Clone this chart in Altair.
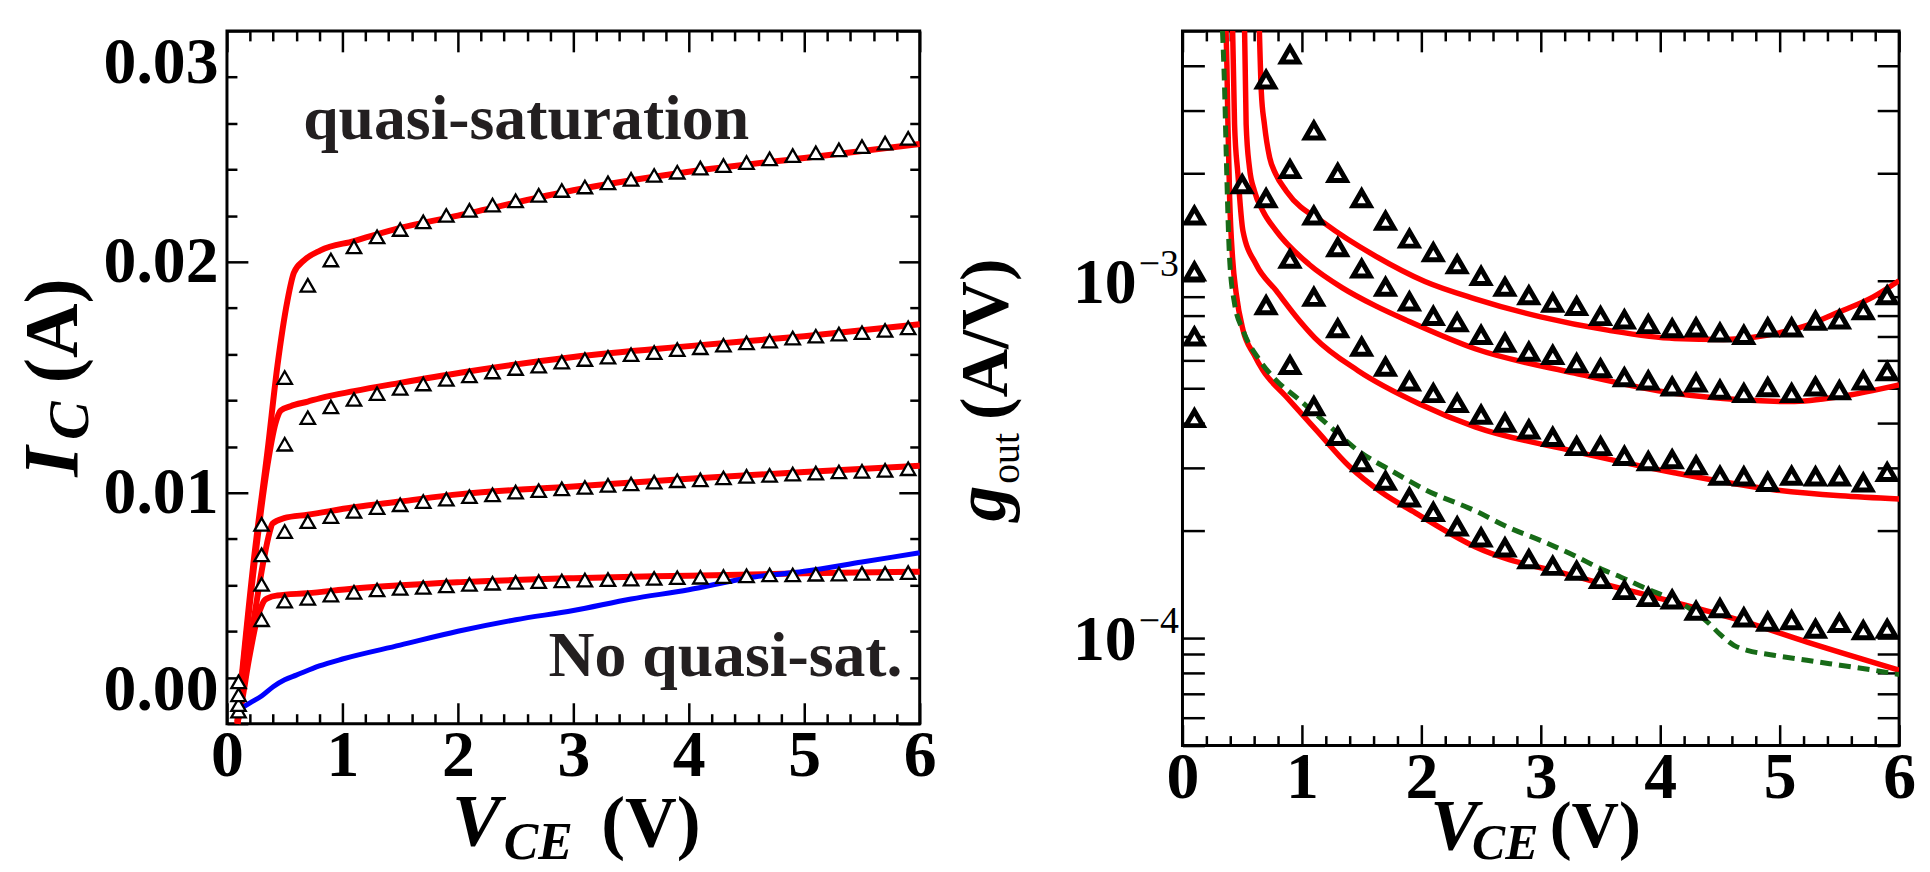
import altair as alt
import pandas as pd

# ---------------- data: left panel (I_C vs V_CE) ----------------
V_MEAS = [0.1, 0.3, 0.5, 0.7, 0.9, 1.1, 1.3, 1.5, 1.7, 1.9, 2.1, 2.3, 2.5, 2.7, 2.9,
          3.1, 3.3, 3.5, 3.7, 3.9, 4.1, 4.3, 4.5, 4.7, 4.9, 5.1, 5.3, 5.5, 5.7, 5.9]
IC_MEAS_4 = [0.00181, 0.00863, 0.01499, 0.01898, 0.02008, 0.02065, 0.02108, 0.02140, 0.02173, 0.02201,
             0.02223, 0.02246, 0.02264, 0.02288, 0.02309, 0.02324, 0.02342, 0.02357, 0.02374, 0.02388,
             0.02406, 0.02417, 0.02430, 0.02446, 0.02460, 0.02472, 0.02485, 0.02499, 0.02514, 0.02535]
IC_MEAS_3 = [0.00125, 0.00731, 0.0121, 0.01325, 0.01372, 0.01404, 0.01429, 0.01452, 0.01471, 0.01491,
             0.01506, 0.01523, 0.01538, 0.01548, 0.01566, 0.01577, 0.01587, 0.01598, 0.01607, 0.01620,
             0.01628, 0.01639, 0.01649, 0.01657, 0.01670, 0.01678, 0.01687, 0.01693, 0.01703, 0.01714]
IC_MEAS_2 = [0.00082, 0.00603, 0.00832, 0.00875, 0.00897, 0.00919, 0.00936, 0.00948, 0.00962, 0.00972,
             0.00983, 0.00991, 0.01003, 0.01009, 0.01017, 0.01023, 0.01032, 0.01038, 0.01046, 0.01052,
             0.01056, 0.01064, 0.01071, 0.01075, 0.01081, 0.01085, 0.01090, 0.01093, 0.01097, 0.01104]
IC_MEAS_1 = [0.00054, 0.00450, 0.00531, 0.00543, 0.00557, 0.00569, 0.00579, 0.00586, 0.00590, 0.00597,
             0.00603, 0.00608, 0.00612, 0.00615, 0.00618, 0.00622, 0.00624, 0.00626, 0.00629, 0.00632,
             0.00634, 0.00637, 0.00640, 0.00644, 0.00644, 0.00647, 0.00648, 0.00651, 0.00651, 0.00654]

V_FIT_1 = [0.09, 0.12, 0.192, 0.264, 0.3, 0.322, 0.36, 0.437, 0.696, 1.1, 2.02, 3.0, 4.0, 5.0, 6.0]
IC_FIT_1 = [0.0, 0.0007, 0.00283, 0.00459, 0.0051, 0.00532, 0.00545, 0.00555, 0.00565, 0.00585,
            0.00613, 0.0063, 0.00641, 0.00651, 0.00658]
V_FIT_2 = [0.09, 0.164, 0.235, 0.322, 0.37, 0.394, 0.494, 0.7, 1.1, 1.5, 2.02, 3.0, 4.0, 5.0, 6.0]
IC_FIT_2 = [0.0, 0.0023, 0.0046, 0.0072, 0.0083, 0.00866, 0.0089, 0.00905, 0.00937, 0.00962,
            0.00994, 0.01027, 0.01061, 0.0109, 0.01117]
V_FIT_3 = [0.09, 0.235, 0.351, 0.42, 0.466, 0.55, 0.7, 0.81, 1.1, 1.5, 2.02, 3.0, 4.0, 5.0, 6.0]
IC_FIT_3 = [0.0, 0.0068, 0.0112, 0.0130, 0.01356, 0.01375, 0.01395, 0.0141, 0.0144, 0.01476,
            0.0152, 0.01588, 0.01635, 0.01678, 0.0173]
V_FIT_4 = [0.09, 0.235, 0.351, 0.437, 0.523, 0.58, 0.667, 0.81, 1.1, 1.5, 2.0, 3.0, 4.0, 5.0, 6.0]
IC_FIT_4 = [0.0001, 0.0072, 0.0118, 0.0155, 0.0183, 0.01953, 0.02006, 0.0205, 0.0209, 0.02147,
            0.0220, 0.0231, 0.0239, 0.0245, 0.0251]

V_BLUE = [0.1, 0.2, 0.3, 0.4, 0.5, 0.6, 0.8, 1.0, 1.5, 2.0, 2.5, 3.0, 3.5, 4.0, 4.5, 5.0, 5.5, 6.0]
IC_BLUE = [0.0006, 0.0009, 0.0012, 0.0016, 0.0019, 0.0021, 0.0025, 0.0028, 0.0034, 0.0040, 0.0045,
           0.0049, 0.0054, 0.0058, 0.0063, 0.0066, 0.0070, 0.0074]

# ---------------- data: right panel (g_out vs V_CE) ----------------
V_G_A = [0.1] + [round(0.9 + 0.2 * i, 1) for i in range(26)]
G_MEAS_A = [1.52e-3, 4.29e-3, 2.63e-3, 2.00e-3, 1.70e-3, 1.47e-3, 1.31e-3, 1.20e-3, 1.11e-3, 1.03e-3,
            9.60e-4, 9.09e-4, 8.67e-4, 8.48e-4, 7.95e-4, 7.78e-4, 7.55e-4, 7.35e-4, 7.39e-4, 7.15e-4,
            7.04e-4, 7.39e-4, 7.39e-4, 7.72e-4, 7.78e-4, 8.26e-4, 9.09e-4]
V_G_B = [0.1] + [round(0.7 + 0.2 * i, 1) for i in range(27)]
G_MEAS_B = [1.06e-3, 3.65e-3, 2.05e-3, 1.52e-3, 1.24e-3, 1.08e-3, 9.60e-4, 8.74e-4, 7.96e-4, 7.64e-4,
            7.04e-4, 6.70e-4, 6.32e-4, 6.19e-4, 5.87e-4, 5.68e-4, 5.36e-4, 5.25e-4, 5.05e-4, 5.18e-4,
            4.95e-4, 4.84e-4, 5.03e-4, 4.84e-4, 5.05e-4, 4.93e-4, 5.25e-4, 5.57e-4]
V_G_C = [0.1] + [round(0.5 + 0.2 * i, 1) for i in range(28)]
G_MEAS_C = [6.97e-4, 1.86e-3, 1.70e-3, 1.15e-3, 9.00e-4, 7.35e-4, 6.53e-4, 5.74e-4, 5.22e-4, 4.84e-4,
            4.54e-4, 4.21e-4, 4.00e-4, 3.83e-4, 3.65e-4, 3.44e-4, 3.44e-4, 3.23e-4, 3.12e-4, 3.16e-4,
            3.04e-4, 2.84e-4, 2.83e-4, 2.73e-4, 2.84e-4, 2.83e-4, 2.83e-4, 2.72e-4, 2.91e-4]
V_G_D = [0.1] + [round(0.7 + 0.2 * i, 1) for i in range(27)]
G_MEAS_D = [4.12e-4, 8.53e-4, 5.80e-4, 4.45e-4, 3.67e-4, 3.10e-4, 2.75e-4, 2.47e-4, 2.25e-4, 2.05e-4,
            1.91e-4, 1.79e-4, 1.66e-4, 1.59e-4, 1.54e-4, 1.46e-4, 1.36e-4, 1.30e-4, 1.28e-4, 1.19e-4,
            1.21e-4, 1.14e-4, 1.11e-4, 1.12e-4, 1.06e-4, 1.10e-4, 1.05e-4, 1.06e-4]

V_GFIT_1 = [0.365, 0.372, 0.38, 0.395, 0.42, 0.45, 0.506, 0.6, 0.672, 0.867, 1.117, 1.394, 1.672,
            1.95, 2.45, 3.28, 4.117, 4.672, 5.23, 6.0]
G_FIT_1 = [5.0e-3, 4.0e-3, 2.8e-3, 1.7e-3, 1.15e-3, 9.2e-4, 7.3e-4, 6.2e-4, 5.62e-4, 4.74e-4, 3.83e-4,
           3.03e-4, 2.55e-4, 2.24e-4, 1.80e-4, 1.49e-4, 1.26e-4, 1.12e-4, 9.74e-5, 8.13e-5]
V_GFIT_2 = [0.42, 0.436, 0.464, 0.506, 0.617, 0.783, 0.978, 1.108, 1.47, 1.985, 2.45, 3.28, 4.117,
            4.95, 5.508, 6.0]
G_FIT_2 = [5.0e-3, 2.74e-3, 1.99e-3, 1.38e-3, 1.11e-3, 9.39e-4, 7.74e-4, 6.92e-4, 5.6e-4, 4.52e-4,
           3.9e-4, 3.33e-4, 2.90e-4, 2.60e-4, 2.50e-4, 2.45e-4]
V_GFIT_3 = [0.52, 0.533, 0.561, 0.603, 0.672, 0.783, 1.061, 1.339, 1.617, 1.894, 2.45, 3.283, 4.117,
            4.672, 5.09, 5.508, 6.0]
G_FIT_3 = [5.0e-3, 2.74e-3, 2.07e-3, 1.78e-3, 1.57e-3, 1.38e-3, 1.11e-3, 9.55e-4, 8.5e-4, 7.7e-4,
           6.45e-4, 5.51e-4, 4.84e-4, 4.64e-4, 4.59e-4, 4.74e-4, 5.11e-4]
V_GFIT_4 = [0.644, 0.66, 0.686, 0.73, 0.78, 0.87, 1.2, 1.62, 2.03, 2.45, 3.0, 3.56, 4.12, 4.53, 4.81,
            5.23, 5.5, 5.78, 6.0]
G_FIT_4 = [5.0e-3, 3.38e-3, 2.74e-3, 2.21e-3, 1.99e-3, 1.78e-3, 1.44e-3, 1.17e-3, 9.95e-4, 8.9e-4,
           7.92e-4, 7.27e-4, 6.89e-4, 6.85e-4, 6.97e-4, 7.5e-4, 8.18e-4, 9.0e-4, 1.0e-3]

V_GREEN = [0.335, 0.352, 0.367, 0.394, 0.436, 0.506, 0.644, 0.783, 0.978, 1.2, 1.478, 1.756, 2.033,
           2.45, 2.728, 3.006, 3.283, 3.506, 3.672, 3.894, 4.061, 4.228, 4.394, 4.506, 4.617, 4.728,
           4.95, 5.228, 5.506, 5.783, 6.0]
G_GREEN = [5.0e-3, 3.5e-3, 2.21e-3, 1.16e-3, 8.63e-4, 7.27e-4, 6.0e-4, 5.27e-4, 4.64e-4, 4.0e-4,
           3.33e-4, 2.93e-4, 2.60e-4, 2.27e-4, 2.04e-4, 1.87e-4, 1.70e-4, 1.56e-4, 1.48e-4, 1.37e-4,
           1.30e-4, 1.22e-4, 1.11e-4, 1.02e-4, 9.54e-5, 9.24e-5, 8.95e-5, 8.66e-5, 8.39e-5, 8.13e-5,
           7.90e-5]

# axis tick values and labels
X_TICKS = [round(0.2 * i, 1) for i in range(31)]
X_LABELS = [0, 1, 2, 3, 4, 5, 6]
Y1_TICKS = [round(0.002 * i, 3) for i in range(16)]
Y1_LABELS = [0.0, 0.01, 0.02, 0.03]
Y2_TICKS = [5e-5, 6e-5, 7e-5, 8e-5, 9e-5, 1e-4, 2e-4, 3e-4, 4e-4, 5e-4, 6e-4, 7e-4, 8e-4, 9e-4,
            1e-3, 2e-3, 3e-3, 4e-3, 5e-3]
Y2_LABEL_VALUES = [1e-4, 1e-3]
Y2_LABEL_EXP = ["\u22124", "\u22123"]

ANNOT_TOP = ["quasi-saturation"]
ANNOT_TOP_V = [0.66]
ANNOT_TOP_IC = [0.02534]
ANNOT_BOT = ["No quasi-sat."]
ANNOT_BOT_V = [5.85]
ANNOT_BOT_IC = [0.00207]

# ---------------- build tables ----------------
def long_df(pairs, xname, yname):
    rows = []
    for name, xs_, ys_ in pairs:
        for a, b in zip(xs_, ys_):
            rows.append({xname: a, yname: b, "curve": name})
    return pd.DataFrame(rows)

left_meas = long_df([("1", V_MEAS, IC_MEAS_1), ("2", V_MEAS, IC_MEAS_2),
                     ("3", V_MEAS, IC_MEAS_3), ("4", V_MEAS, IC_MEAS_4)], "V", "I")
left_fit = long_df([("1", V_FIT_1, IC_FIT_1), ("2", V_FIT_2, IC_FIT_2),
                    ("3", V_FIT_3, IC_FIT_3), ("4", V_FIT_4, IC_FIT_4)], "V", "I")
left_blue = pd.DataFrame({"V": V_BLUE, "I": IC_BLUE})
annot_top = pd.DataFrame({"t": ANNOT_TOP, "V": ANNOT_TOP_V, "I": ANNOT_TOP_IC})
annot_bot = pd.DataFrame({"t": ANNOT_BOT, "V": ANNOT_BOT_V, "I": ANNOT_BOT_IC})

right_meas = long_df([("A", V_G_A, G_MEAS_A), ("B", V_G_B, G_MEAS_B),
                      ("C", V_G_C, G_MEAS_C), ("D", V_G_D, G_MEAS_D)], "V", "g")
right_fit = long_df([("1", V_GFIT_1, G_FIT_1), ("2", V_GFIT_2, G_FIT_2),
                     ("3", V_GFIT_3, G_FIT_3), ("4", V_GFIT_4, G_FIT_4)], "V", "g")
right_green = pd.DataFrame({"V": V_GREEN, "g": G_GREEN})
ylab_df = pd.DataFrame({"g": Y2_LABEL_VALUES, "e": Y2_LABEL_EXP})

# ---------------- style ----------------
FONT = "Liberation Serif"
W1, H1 = 696, 696
W2, H2 = 720, 718
TICK_W = 2.5
TICK_MAJOR = 21
TICK_MINOR = 10
LABEL_SIZE = 66

X_MAJOR_TEST = "abs(datum.value - round(datum.value)) < 0.001"
Y1_MAJOR_TEST = "abs(datum.value * 100 - round(datum.value * 100)) < 0.001"


def tick_axis(orient, offset, values, test):
    size = {"condition": {"test": test, "value": TICK_MAJOR}, "value": TICK_MINOR} if test else 22
    return alt.Axis(orient=orient, offset=offset, values=values, labels=False, domain=False,
                    grid=False, ticks=True, tickColor="black", tickWidth=TICK_W, tickSize=size,
                    title=None)


def label_axis(orient, values, fmt, size, padding, flush=False):
    return alt.Axis(orient=orient, values=values, format=fmt, ticks=False, tickSize=0,
                    domain=False, grid=False, labels=True, labelFont=FONT, labelFontSize=size,
                    labelFontWeight="bold", labelColor="black", labelPadding=padding,
                    labelFlush=flush, labelOverlap=False, title=None)


def ptext(text, x, y, size, weight="bold", style="normal", angle=0, align="left"):
    return alt.Chart().mark_text(
        text=text, font=FONT, fontSize=size, fontWeight=weight, fontStyle=style, angle=angle,
        align=align, baseline="alphabetic", color="black"
    ).encode(x=alt.value(x), y=alt.value(y))


# ---------------- left panel ----------------
xs = alt.Scale(domain=[0, 6], nice=False, zero=False)
ys1 = alt.Scale(domain=[0, 0.03], nice=False, zero=False)

anchor = alt.Chart().mark_rect(color="white").encode(
    x=alt.value(-218), x2=alt.value(-214), y=alt.value(-19), y2=alt.value(-15))

red1 = alt.Chart(left_fit).mark_line(color="#ff0000", strokeWidth=6, interpolate="monotone").encode(
    x=alt.X("V:Q", scale=xs, axis=label_axis("bottom", X_LABELS, "d", LABEL_SIZE, 0)),
    y=alt.Y("I:Q", scale=ys1, axis=label_axis("left", Y1_LABELS, ".2f", LABEL_SIZE, 9, flush=True)),
    detail="curve:N")
blue1 = alt.Chart(left_blue).mark_line(color="#0000ff", strokeWidth=5, interpolate="monotone").encode(
    x=alt.X("V:Q", scale=xs, axis=tick_axis("top", -H1, X_TICKS, X_MAJOR_TEST)),
    y=alt.Y("I:Q", scale=ys1, axis=tick_axis("right", -W1, Y1_TICKS, Y1_MAJOR_TEST)))
tri1 = alt.Chart(left_meas).mark_point(
    shape="triangle-up", filled=True, fill="white", stroke="black", strokeWidth=2.3, size=210,
    opacity=1, fillOpacity=1, strokeOpacity=1).encode(
    x=alt.X("V:Q", scale=xs, axis=tick_axis("bottom", -H1, X_TICKS, X_MAJOR_TEST)),
    y=alt.Y("I:Q", scale=ys1, axis=tick_axis("left", -W1, Y1_TICKS, Y1_MAJOR_TEST)),
    detail="curve:N")
ann_top = alt.Chart(annot_top).mark_text(font=FONT, fontSize=64, fontWeight="bold", color="#231f20",
                                         baseline="alphabetic", align="left").encode(
    x=alt.X("V:Q", scale=xs, axis=None), y=alt.Y("I:Q", scale=ys1, axis=None), text="t:N")
ann_bot = alt.Chart(annot_bot).mark_text(font=FONT, fontSize=64, fontWeight="bold", color="#231f20",
                                         baseline="alphabetic", align="right").encode(
    x=alt.X("V:Q", scale=xs, axis=None), y=alt.Y("I:Q", scale=ys1, axis=None), text="t:N")

left = alt.layer(
    anchor, red1, blue1, tri1, ann_top, ann_bot,
    ptext("I", -151, 448, 78, style="italic", angle=270),
    ptext("C", -140, 411, 58, style="italic", angle=270),
    ptext("(A)", -151, 354, 76, angle=270),
    ptext("V", 226, 819, 74, style="italic"),
    ptext("CE", 278, 832, 52, style="italic"),
    ptext("(V)", 376, 819, 72),
).resolve_axis(x="independent", y="independent").properties(width=W1, height=H1)

# ---------------- right panel ----------------
ys2 = alt.Scale(type="log", domain=[5e-5, 5e-3], nice=False)

red2 = alt.Chart(right_fit).mark_line(color="#ff0000", strokeWidth=5.5, interpolate="monotone",
                                      clip=True).encode(
    x=alt.X("V:Q", scale=xs, axis=label_axis("bottom", X_LABELS, "d", LABEL_SIZE, 0)),
    y=alt.Y("g:Q", scale=ys2, axis=tick_axis("left", -W2, Y2_TICKS, None)),
    detail="curve:N")
green2 = alt.Chart(right_green).mark_line(color="#176b17", strokeWidth=5, strokeDash=[12, 7],
                                          interpolate="monotone", clip=True).encode(
    x=alt.X("V:Q", scale=xs, axis=tick_axis("top", -H2, X_TICKS, X_MAJOR_TEST)),
    y=alt.Y("g:Q", scale=ys2, axis=tick_axis("right", -W2, Y2_TICKS, None)))
tri2 = alt.Chart(right_meas).mark_point(
    shape="triangle-up", filled=True, fill="white", stroke="black", strokeWidth=5, size=290,
    opacity=1, fillOpacity=1, strokeOpacity=1).encode(
    x=alt.X("V:Q", scale=xs, axis=tick_axis("bottom", -H2, X_TICKS, X_MAJOR_TEST)),
    y=alt.Y("g:Q", scale=ys2, axis=None),
    detail="curve:N")
ylab_ten = alt.Chart(ylab_df).mark_text(text="10", font=FONT, fontSize=64, fontWeight="bold",
                                        align="right", baseline="alphabetic", dy=22,
                                        color="black").encode(
    x=alt.value(-46), y=alt.Y("g:Q", scale=ys2, axis=None))
ylab_exp = alt.Chart(ylab_df).mark_text(font=FONT, fontSize=38, fontWeight="normal",
                                        align="left", baseline="alphabetic", dy=-5,
                                        color="black").encode(
    x=alt.value(-44), y=alt.Y("g:Q", scale=ys2, axis=None), text="e:N")

right = alt.layer(
    red2, green2, tri2, ylab_ten, ylab_exp,
    ptext("g", -178, 493, 72, style="italic", angle=270),
    ptext("out", -164, 455, 40, weight="normal", angle=270),
    ptext("(A/V)", -176, 391, 68, angle=270),
    ptext("V", 249, 822, 72, style="italic"),
    ptext("CE", 291, 832, 50, style="italic"),
    ptext("(V)", 369, 820, 66),
).resolve_axis(x="independent", y="independent").properties(width=W2, height=H2)

chart = alt.hconcat(left, right, spacing=264, bounds="flush").properties(
    padding={"left": 0, "top": 0, "right": 5, "bottom": 0},
    background="white",
).configure_view(stroke="black", strokeWidth=3, fill="white")

chart.save("out.html", embed_options={"renderer": "svg", "actions": False})
